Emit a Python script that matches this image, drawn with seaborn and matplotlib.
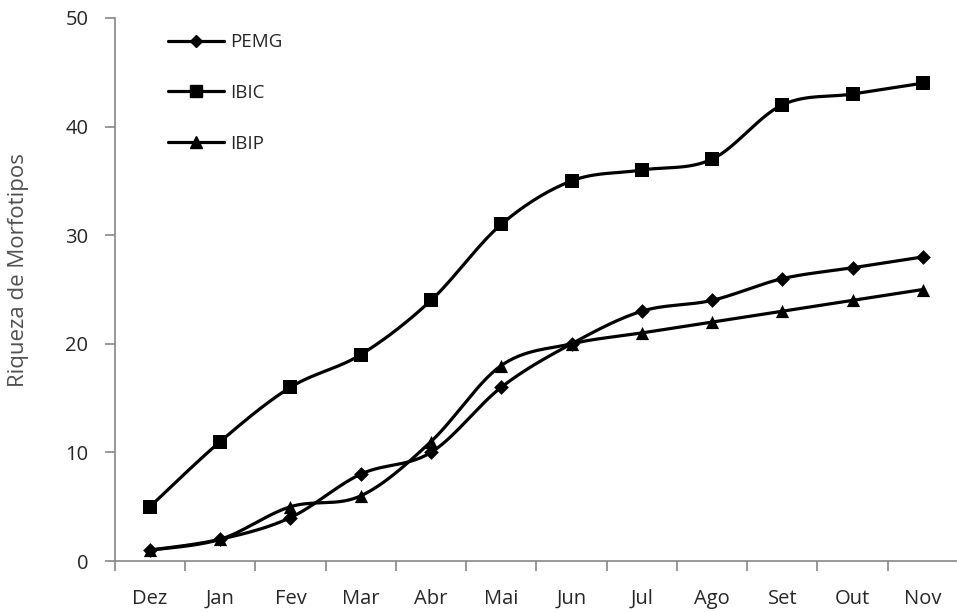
import numpy as np
import pandas as pd
import matplotlib
matplotlib.use("Agg")
import matplotlib.pyplot as plt
from matplotlib.lines import Line2D
import seaborn as sns

# === Data ===
months = ["Dez", "Jan", "Fev", "Mar", "Abr", "Mai", "Jun", "Jul", "Ago", "Set", "Out", "Nov"]
pemg = [1, 2, 4, 8, 10, 16, 20, 23, 24, 26, 27, 28]
ibic = [5, 11, 16, 19, 24, 31, 35, 36, 37, 42, 43, 44]
ibip = [1, 2, 5, 6, 11, 18, 20, 21, 22, 23, 24, 25]

series = {"PEMG": pemg, "IBIC": ibic, "IBIP": ibip}
markers = {"PEMG": "D", "IBIC": "s", "IBIP": "^"}
msizes = {"PEMG": 7.5, "IBIC": 10.5, "IBIP": 9.5}

df = pd.DataFrame({"mes": months * 3,
                   "x": list(range(len(months))) * 3,
                   "valor": pemg + ibic + ibip,
                   "serie": ["PEMG"] * 12 + ["IBIC"] * 12 + ["IBIP"] * 12})


# === Excel-like smoothed line (cubic Bezier through the points) ===
def smooth_curve(xs, ys, n=30):
    xs = np.asarray(xs, float)
    ys = np.asarray(ys, float)
    pts = np.column_stack([xs, ys])
    out = []
    for i in range(len(pts) - 1):
        p0 = pts[i - 1] if i > 0 else pts[i]
        p1 = pts[i]
        p2 = pts[i + 1]
        p3 = pts[i + 2] if i + 2 < len(pts) else pts[i + 1]
        c1 = p1 + (p2 - p0) / 6.0
        c2 = p2 - (p3 - p1) / 6.0
        t = np.linspace(0, 1, n)[:, None]
        seg = ((1 - t) ** 3) * p1 + 3 * ((1 - t) ** 2) * t * c1 + 3 * (1 - t) * t ** 2 * c2 + t ** 3 * p2
        out.append(seg if i == 0 else seg[1:])
    seg = np.vstack(out)
    return seg[:, 0], seg[:, 1]


# === Plot ===
sns.set_theme(style="white")
plt.rcParams["font.family"] = ["Open Sans", "DejaVu Sans"]

fig = plt.figure(figsize=(9.57, 6.12), dpi=100)
ax = fig.add_axes([0.120, 0.0833, 0.881, 0.8873])

for name, vals in series.items():
    sx, sy = smooth_curve(range(len(months)), vals)
    ax.plot(sx, sy, color="black", lw=2.3, zorder=2)

for name in series:
    sub = df[df["serie"] == name]
    sns.scatterplot(x=sub["x"], y=sub["valor"], marker=markers[name], s=msizes[name] ** 2,
                    color="black", edgecolor="black", linewidth=0, legend=False, zorder=3, ax=ax)

ax.set_xlim(-0.5, len(months) - 0.5)
ax.set_ylim(0, 50)
ax.set_yticks(range(0, 51, 10))
ax.set_xticks(range(len(months)))
ax.set_xticklabels(months)
ax.set_xticks(np.arange(-0.5, len(months), 1), minor=True)
ax.tick_params(axis="x", which="major", length=0, pad=20, labelsize=14.5)
ax.tick_params(axis="x", which="minor", length=7, width=1.2, color="#868686", direction="out", bottom=True)
ax.tick_params(axis="y", length=7, width=1.2, color="#868686", direction="out", left=True,
               labelsize=14.5, pad=12)
ax.set_xlabel("")
ax.set_ylabel("Riqueza de Morfotipos", fontsize=16, color="#505050")
ax.yaxis.set_label_coords(-0.102, 0.536)

for s in ["top", "right"]:
    ax.spines[s].set_visible(False)
for s in ["left", "bottom"]:
    ax.spines[s].set_color("#868686")
    ax.spines[s].set_linewidth(1.2)

handles = [Line2D([0], [0], color="black", lw=2.3, marker=markers[n], ms=msizes[n] * 0.85)
           for n in series]
ax.legend(handles, list(series.keys()), loc="upper left", bbox_to_anchor=(0.063, 0.972),
          frameon=False, fontsize=13.5, handlelength=3.0, handletextpad=0.3,
          labelspacing=1.75, borderaxespad=0, borderpad=0)

fig.savefig("out.png", dpi=100)
